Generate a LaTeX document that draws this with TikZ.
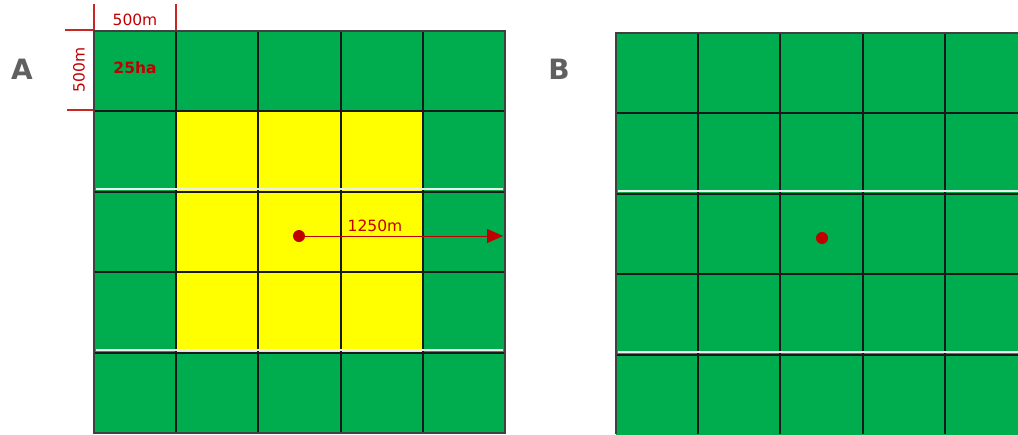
\documentclass[tikz,border=0pt]{standalone}
\usepackage{fontspec}
\setmainfont{DejaVu Sans}
\usetikzlibrary{arrows.meta}
\definecolor{cgreen}{HTML}{00AD4E}
\definecolor{cyellow}{HTML}{FFFF00}
\definecolor{cred}{HTML}{C00000}
\definecolor{cgray}{HTML}{606060}
\tikzset{
  cell/.style={draw=none, minimum width=82.4pt, minimum height=80.6pt, inner sep=0pt, outer sep=0pt},
  gridline/.style={draw=black!90, line width=2pt},
  border/.style={draw=black!75, line width=2pt},
  dimline/.style={draw=cred!85, line width=1.2pt},
  dimtext/.style={text=cred, font=\fontsize{15.5}{18}\selectfont, inner sep=1pt},
  panel/.style={text=cgray, font=\bfseries\fontsize{28}{32}\selectfont},
  reddot/.style={circle, fill=cred, minimum size=12pt, inner sep=0pt},
  sep/.style={draw=white!85!gray, line width=1.3pt}
}
\begin{document}
\begin{tikzpicture}[x=1pt,y=-1pt]
\useasboundingbox (0,0) rectangle (1018,434);
% grid A cells
\foreach \i in {0,...,4}{
  \foreach \j in {0,...,4}{
    \pgfmathtruncatemacro{\inner}{(\i>0)&&(\i<4)&&(\j>0)&&(\j<4)}
    \ifnum\inner=1
      \node[cell, fill=cyellow] (a\i\j) at ({94+82.2*(\i+0.5)},{31+80.4*(\j+0.5)}) {};
    \else
      \node[cell, fill=cgreen] (a\i\j) at ({94+82.2*(\i+0.5)},{31+80.4*(\j+0.5)}) {};
    \fi
  }
}
% grid A lines
\foreach \k in {1,...,4}{
  \draw[gridline] ({94+82.2*\k},31) -- ({94+82.2*\k},433);
  \draw[gridline] (94,{31+80.4*\k}) -- (505,{31+80.4*\k});
}
\draw[border] (94,31) rectangle (505,433);
% grid B cells
\foreach \i in {0,...,4}{
  \foreach \j in {0,...,4}{
    \node[cell, fill=cgreen] (b\i\j) at ({616+82.2*(\i+0.5)},{33+80.4*(\j+0.5)}) {};
  }
}
% grid B lines
\foreach \k in {1,...,4}{
  \draw[gridline] ({616+82.2*\k},33) -- ({616+82.2*\k},434);
  \draw[gridline] (616,{33+80.4*\k}) -- (1018,{33+80.4*\k});
}
\draw[border] (1018,33) -- (616,33) -- (616,434);
% light separator lines
\draw[sep] (96,189) -- (503,189);
\draw[sep] (96,350) -- (503,350);
\draw[sep] (618,191) -- (1018,191);
\draw[sep] (618,352) -- (1018,352);
% dimension marks
\draw[dimline] (94,4) -- (94,30);
\draw[dimline] (176,4) -- (176,30);
\draw[dimline] (65,30) -- (93,30);
\draw[dimline] (67,110) -- (93,110);
\node[dimtext] (dimh) at (135,20) {500m};
\node[dimtext, rotate=90] (dimv) at (79,70) {500m};
\node[text=cred, font=\bfseries\fontsize{15.5}{18}\selectfont] (ha) at (135,68) {25ha};
% panel labels
\node[panel] (lA) at (22,69) {A};
\node[panel] (lB) at (559,69) {B};
% centre dots and radius
\node[reddot] (dA) at (299,236) {};
\node[reddot] (dB) at (822,238) {};
\coordinate (rend) at (503,236);
\draw[cred, line width=1pt, -{Triangle[length=16pt,width=14pt]}] (dA.center) -- (rend);
\node[dimtext] (rlab) at (375,226) {1250m};
\end{tikzpicture}
\end{document}
